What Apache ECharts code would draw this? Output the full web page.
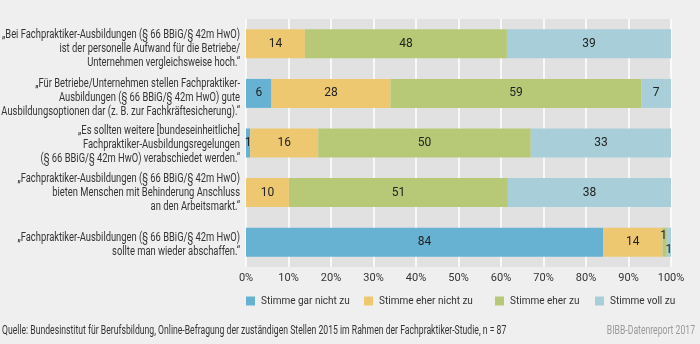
<!DOCTYPE html>
<html>
<head>
<meta charset="utf-8">
<script src="https://cdn.jsdelivr.net/npm/echarts@6/dist/echarts.min.js"></script>
<style>
  html, body { margin: 0; padding: 0; background: #efefef; }
  #chart { width: 700px; height: 344px; }
</style>
</head>
<body>
<div id="chart"></div>
<script>
// Survey statements (one bar each)
const statements = [
  '„Bei Fachpraktiker-Ausbildungen (§ 66 BBiG/§ 42m HwO)\nist der personelle Aufwand für die Betriebe/\nUnternehmen vergleichsweise hoch.“',
  '„Für Betriebe/Unternehmen stellen Fachpraktiker-\nAusbildungen (§ 66 BBiG/§ 42m HwO) gute\nAusbildungsoptionen dar (z. B. zur Fachkräftesicherung).“',
  '„Es sollten weitere [bundeseinheitliche]\nFachpraktiker-Ausbildungsregelungen\n(§ 66 BBiG/§ 42m HwO) verabschiedet werden.“',
  '„Fachpraktiker-Ausbildungen (§ 66 BBiG/§ 42m HwO)\nbieten Menschen mit Behinderung Anschluss\nan den Arbeitsmarkt.“',
  '„Fachpraktiker-Ausbildungen (§ 66 BBiG/§ 42m HwO)\nsollte man wieder abschaffen.“'
];

// Answer categories
const answerNames = ['Stimme gar nicht zu', 'Stimme eher nicht zu', 'Stimme eher zu', 'Stimme voll zu'];

// Shares in percent per statement
const garNichtZu  = [0, 6, 1, 0, 84];
const eherNichtZu = [14, 28, 16, 10, 14];
const eherZu      = [48, 59, 50, 51, 1];
const vollZu      = [39, 7, 33, 38, 1];

// Axis tick labels
const tickLabels = ['0%', '10%', '20%', '30%', '40%', '50%', '60%', '70%', '80%', '90%', '100%'];

const sourceText = 'Quelle: Bundesinstitut für Berufsbildung, Online-Befragung der zuständigen Stellen 2015 im Rahmen der Fachpraktiker-Studie, n = 87';
const creditText = 'BIBB-Datenreport 2017';

const colors = ['#67b2d3', '#eec870', '#b7c976', '#a8cfd9'];
const FONT = "Roboto, 'Liberation Sans', sans-serif";
const NARROW = 0.72;        // horizontal squeeze for footer texts
const NARROW_LABEL = 0.75;  // horizontal squeeze for the statement texts

// Vertical nudge of each statement block relative to its bar centre (px)
const statementShift = [5, 4, 2, 0, 3];

const seriesValues = [garNichtZu, eherNichtZu, eherZu, vollZu];
// Rounded shares do not always add up to 100, so each bar is scaled to its row total
const rowTotals = statements.map((_, i) => seriesValues.reduce((s, arr) => s + arr[i], 0));

// Small-label placement for the last bar's thin segments
const labelOffsets = {
  '2-4': [-1, -6],
  '3-4': [0, 8]
};

const barSeries = seriesValues.map((values, si) => ({
  name: answerNames[si],
  type: 'bar',
  stack: 'total',
  barWidth: 29,
  itemStyle: { color: colors[si] },
  data: values.map((v, i) => {
    const item = { value: v / rowTotals[i] * 100, raw: v };
    const off = labelOffsets[si + '-' + i];
    if (off) item.label = { offset: off };
    return item;
  }),
  label: {
    show: true,
    position: 'inside',
    color: '#222',
    fontFamily: FONT,
    fontSize: 12,
    formatter: p => (p.data.raw > 0 ? String(p.data.raw) : '')
  }
}));

// Statement texts drawn beside each bar, squeezed horizontally
const statementSeries = {
  type: 'custom',
  name: 'statements',
  silent: true,
  clip: false,
  z: 10,
  data: statements.map((_, i) => [0, i]),
  renderItem: (params, api) => {
    const p = api.coord([0, api.value(1)]);
    return {
      type: 'text',
      x: p[0] - 6,
      y: p[1] + statementShift[params.dataIndex],
      scaleX: NARROW_LABEL,
      style: {
        text: statements[params.dataIndex],
        align: 'right',
        verticalAlign: 'middle',
        fontFamily: FONT,
        fontSize: 12.5,
        lineHeight: 14,
        fill: '#333'
      }
    };
  }
};

const legendLefts = [246, 364, 495, 595];
const legends = answerNames.map((n, i) => ({
  data: [n],
  left: legendLefts[i], top: 296,
  padding: 0,
  itemWidth: 9, itemHeight: 9,
  icon: 'rect',
  selectedMode: false,
  textStyle: { color: '#333', fontFamily: FONT, fontSize: 10, padding: [0, 0, 0, 1] }
}));

const chart = echarts.init(document.getElementById('chart'), null, { renderer: 'canvas' });
chart.setOption({
  backgroundColor: '#efefef',
  animation: false,
  textStyle: { fontFamily: FONT },
  grid: {
    left: 246, right: 29, top: 19, bottom: 77,
    outerBoundsMode: 'none',
    containLabel: false,
    show: true, backgroundColor: '#e1e1e1', borderWidth: 0
  },
  xAxis: {
    type: 'value',
    min: 0, max: 100, interval: 10,
    axisLine: { show: false },
    axisTick: { show: false },
    splitLine: { show: true, lineStyle: { color: '#ffffff', width: 1.5 } },
    axisLabel: {
      color: '#333', fontFamily: FONT, fontSize: 11, margin: 6,
      formatter: v => tickLabels[Math.round(v / 10)]
    }
  },
  yAxis: {
    type: 'category',
    inverse: true,
    data: statements,
    axisLine: { show: false },
    axisTick: { show: false },
    axisLabel: { show: false }
  },
  legend: legends,
  graphic: [
    { type: 'text', left: 2, top: 325, scaleX: NARROW, silent: true,
      style: { text: sourceText, fill: '#333', fontFamily: FONT, fontSize: 12 } },
    { type: 'text', right: 5, top: 325, scaleX: NARROW, silent: true,
      style: { text: creditText, fill: '#9a9a9a', fontFamily: FONT, fontSize: 12 } }
  ],
  series: barSeries.concat([statementSeries])
});
</script>
</body>
</html>
